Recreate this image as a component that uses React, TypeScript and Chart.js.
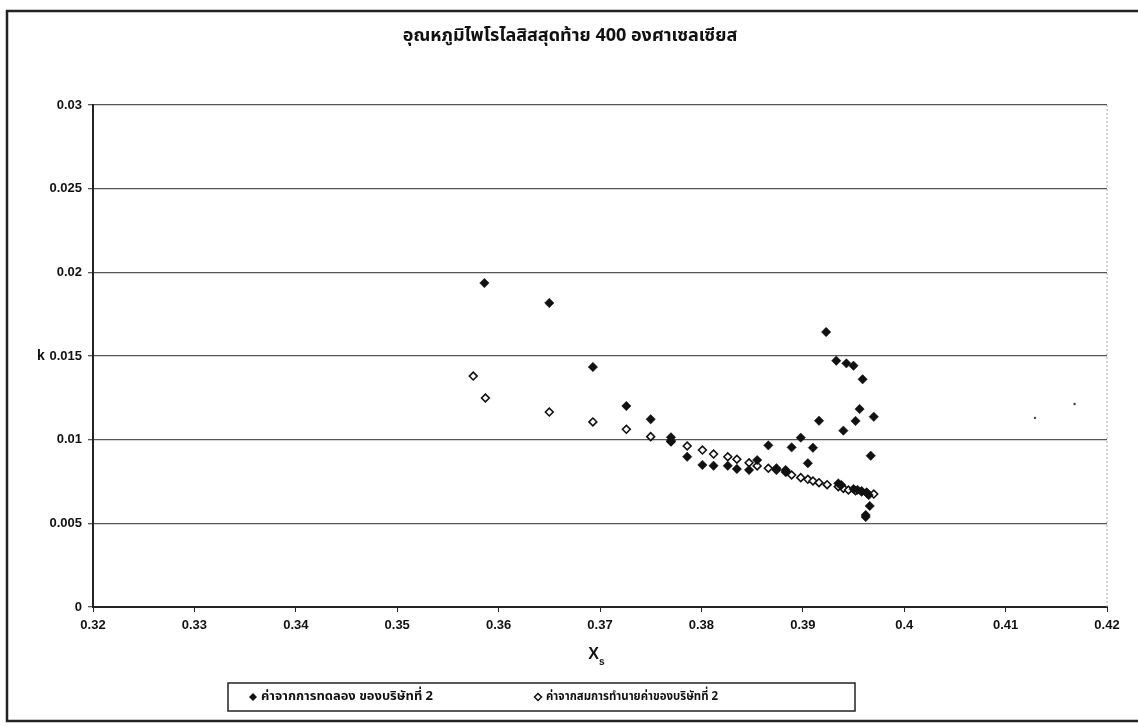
import React, { useEffect, useRef } from 'react';
import { Chart, registerables } from 'chart.js';

Chart.register(...registerables);

const chartTitle = 'อุณหภูมิไพโรไลสิสสุดท้าย 400 องศาเซลเซียส';
const seriesLabels = ['ค่าจากการทดลอง ของบริษัทที่ 2', 'ค่าจากสมการทำนายค่าของบริษัทที่ 2'];
const yAxisTitle = 'k';
const xAxisTitleMain = 'X';
const xAxisTitleSub = 's';

const xMin = 0.32;
const xMax = 0.42;
const xStep = 0.01;
const yMin = 0;
const yMax = 0.03;
const yStep = 0.005;

// experimental values (filled diamonds)
const expX = [
  0.3586, 0.365, 0.3693, 0.3726, 0.375, 0.377, 0.377, 0.3786, 0.3801, 0.3812,
  0.3826, 0.3835, 0.3847, 0.3855, 0.3866, 0.3874, 0.3883, 0.3884, 0.3889, 0.3898,
  0.3905, 0.391, 0.3916, 0.3923, 0.3933, 0.3935, 0.3938, 0.394, 0.3943, 0.395,
  0.3950, 0.3952, 0.3954, 0.3956, 0.3958, 0.3959, 0.3963, 0.3965, 0.3966, 0.3962,
  0.3962, 0.3967, 0.397,
];
const expK = [
  0.01936, 0.01817, 0.01434, 0.01201, 0.01122, 0.01014, 0.00994, 0.00898, 0.00849, 0.00844,
  0.00844, 0.00825, 0.00819, 0.00878, 0.00966, 0.00829, 0.00819, 0.00809, 0.00954, 0.01012,
  0.00859, 0.00952, 0.01113, 0.01643, 0.01472, 0.00739, 0.00729, 0.01054, 0.01456, 0.01442,
  0.00705, 0.01112, 0.007, 0.01183, 0.00693, 0.01361, 0.00685, 0.00669, 0.00604, 0.0055,
  0.00538, 0.00904, 0.01137,
];

// predicted values (hollow diamonds)
const predX = [
  0.3575, 0.3587, 0.365, 0.3693, 0.3726, 0.375, 0.377, 0.3786, 0.3801, 0.3812,
  0.3826, 0.3835, 0.3847, 0.3855, 0.3866, 0.3874, 0.3883, 0.3889, 0.3898, 0.3905,
  0.391, 0.3916, 0.3924, 0.3935, 0.394, 0.3945, 0.3952, 0.3958, 0.3963, 0.397,
];
const predK = [
  0.0138, 0.01249, 0.01165, 0.01106, 0.01062, 0.01018, 0.00988, 0.00962, 0.00938, 0.00914,
  0.00898, 0.00883, 0.00862, 0.00843, 0.00829, 0.00819, 0.00807, 0.00789, 0.00773, 0.00763,
  0.00753, 0.00743, 0.00731, 0.00719, 0.00709, 0.00699, 0.00695, 0.00689, 0.00683, 0.00675,
];

// two faint stray dots at the right of the plot
const strayX = [0.4129, 0.4168];
const strayK = [0.0113, 0.01213];

const thaiFont = '"Noto Sans Thai", "Noto Sans", "DejaVu Sans", sans-serif';
const tickFont = '"Liberation Sans", Arial, sans-serif';

function toPoints(xs: number[], ys: number[]) {
  return xs.map((x, i) => ({ x, y: ys[i] }));
}

function diamond(ctx: CanvasRenderingContext2D, cx: number, cy: number, r: number, filled: boolean) {
  ctx.beginPath();
  ctx.moveTo(cx, cy - r);
  ctx.lineTo(cx + r, cy);
  ctx.lineTo(cx, cy + r);
  ctx.lineTo(cx - r, cy);
  ctx.closePath();
  if (filled) {
    ctx.fillStyle = '#111';
    ctx.fill();
  } else {
    ctx.fillStyle = '#fff';
    ctx.fill();
    ctx.lineWidth = 1.5;
    ctx.strokeStyle = '#111';
    ctx.stroke();
  }
}

const decorPlugin = {
  id: 'decor',
  beforeDraw(chart: any) {
    const ctx = chart.ctx as CanvasRenderingContext2D;
    ctx.save();
    ctx.fillStyle = '#fff';
    ctx.fillRect(0, 0, chart.width, chart.height);
    ctx.restore();
  },
  afterDraw(chart: any) {
    const ctx = chart.ctx as CanvasRenderingContext2D;
    const area = chart.chartArea;
    ctx.save();
    // outer frame
    ctx.strokeStyle = '#222';
    ctx.lineWidth = 2.5;
    ctx.beginPath();
    ctx.moveTo(1140, 11);
    ctx.lineTo(7, 11);
    ctx.lineTo(7, 721);
    ctx.lineTo(1140, 721);
    ctx.stroke();

    // faint right border of plot
    ctx.strokeStyle = '#aaa';
    ctx.lineWidth = 1;
    ctx.setLineDash([2, 2]);
    ctx.beginPath();
    ctx.moveTo(area.right, area.top);
    ctx.lineTo(area.right, area.bottom);
    ctx.stroke();
    ctx.setLineDash([]);

    // title
    ctx.fillStyle = '#111';
    ctx.font = 'bold 18px ' + thaiFont;
    ctx.textAlign = 'center';
    ctx.textBaseline = 'middle';
    ctx.fillText(chartTitle, 570, 37, 375);

    // y title
    ctx.font = 'bold 14px ' + tickFont;
    ctx.textAlign = 'center';
    ctx.fillText(yAxisTitle, 41, chart.scales.y.getPixelForValue(0.015));

    // x title with subscript
    const xc = (area.left + area.right) / 2;
    ctx.font = 'bold 16px ' + tickFont;
    ctx.textAlign = 'right';
    ctx.fillText(xAxisTitleMain, xc - 1, 655);
    ctx.font = 'bold 10px ' + tickFont;
    ctx.textAlign = 'left';
    ctx.fillText(xAxisTitleSub, xc - 1, 662);

    // legend box
    ctx.strokeStyle = '#222';
    ctx.lineWidth = 1.5;
    ctx.strokeRect(228, 683, 627, 28);
    ctx.font = 'bold 13px ' + thaiFont;
    ctx.textAlign = 'left';
    ctx.fillStyle = '#111';
    diamond(ctx, 253, 697, 4, true);
    ctx.fillStyle = '#111';
    ctx.fillText(chart.data.datasets[0].label, 261, 697, 172);
    diamond(ctx, 538, 697, 3.5, false);
    ctx.fillStyle = '#111';
    ctx.fillText(chart.data.datasets[1].label, 546, 697, 172);
    ctx.restore();
  },
};

export default function App() {
  const ref = useRef<HTMLCanvasElement | null>(null);

  useEffect(() => {
    document.body.style.margin = '0';
    const canvas = ref.current;
    if (!canvas) return;
    const chart = new Chart(canvas, {
      type: 'scatter',
      data: {
        datasets: [
          {
            label: seriesLabels[0],
            data: toPoints(expX, expK),
            pointStyle: 'rectRot',
            pointRadius: 4.7,
            pointBackgroundColor: '#111',
            pointBorderColor: '#111',
            pointBorderWidth: 0.5,
          },
          {
            label: seriesLabels[1],
            data: toPoints(predX, predK),
            pointStyle: 'rectRot',
            pointRadius: 3.9,
            pointBackgroundColor: '#fff',
            pointBorderColor: '#111',
            pointBorderWidth: 1.6,
          },
          {
            label: '',
            data: toPoints(strayX, strayK),
            pointStyle: 'circle',
            pointRadius: 1.2,
            pointBackgroundColor: '#444',
            pointBorderColor: '#444',
            pointBorderWidth: 0,
          },
        ],
      },
      plugins: [decorPlugin],
      options: {
        responsive: false,
        animation: false,
        events: [],
        layout: { padding: { left: 0, right: 31, top: 105, bottom: 89 } },
        plugins: {
          legend: { display: false },
          title: { display: false },
          tooltip: { enabled: false },
        },
        scales: {
          x: {
            type: 'linear',
            min: xMin,
            max: xMax,
            afterFit: (s: any) => {
              s.height = 30;
            },
            ticks: {
              stepSize: xStep,
              color: '#111',
              font: { family: tickFont, size: 13, weight: 'bold' },
              padding: 6,
              maxRotation: 0,
              callback: (v: any) => String(parseFloat(Number(v).toFixed(2))),
            },
            grid: {
              drawOnChartArea: false,
              drawTicks: true,
              tickLength: 5,
              color: '#222',
              lineWidth: 1,
            },
            border: { display: true, color: '#222', width: 2 },
          },
          y: {
            type: 'linear',
            min: yMin,
            max: yMax,
            afterFit: (s: any) => {
              s.width = 93;
            },
            ticks: {
              stepSize: yStep,
              color: '#111',
              font: { family: tickFont, size: 13, weight: 'bold' },
              padding: 6,
              callback: (v: any) => String(parseFloat(Number(v).toFixed(3))),
            },
            grid: {
              drawOnChartArea: true,
              drawTicks: true,
              tickLength: 5,
              color: '#555',
              lineWidth: 1.3,
            },
            border: { display: true, color: '#222', width: 2 },
          },
        },
      } as any,
    });
    return () => chart.destroy();
  }, []);

  return (
    <div style={{ width: 1138, height: 726, background: '#fff' }}>
      <canvas ref={ref} width={1138} height={726} style={{ display: 'block' }} />
    </div>
  );
}
